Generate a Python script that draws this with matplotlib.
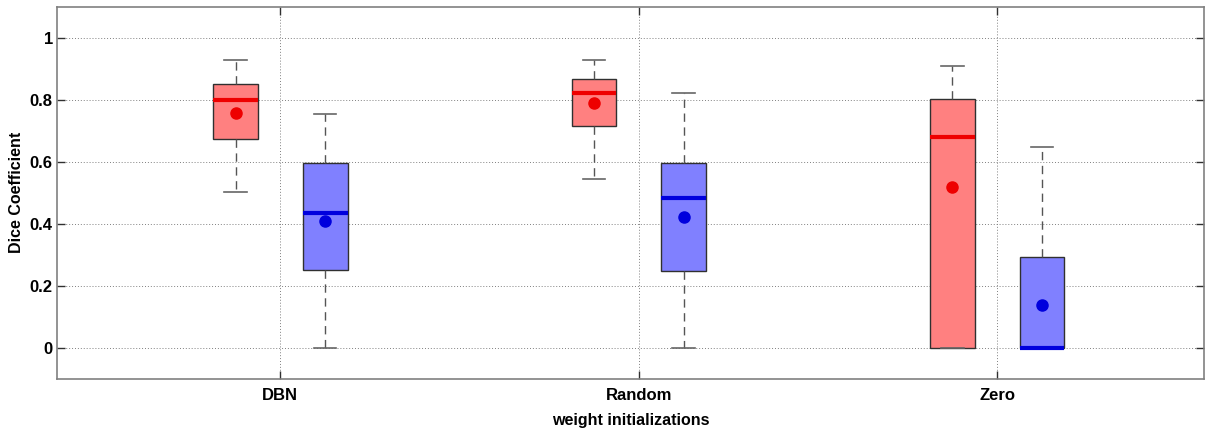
import matplotlib
matplotlib.use("Agg")
import matplotlib.pyplot as plt
import numpy as np

plt.rcParams["font.family"] = ["Liberation Sans", "DejaVu Sans"]

# Dice coefficient summaries per weight initialization
categories = ["DBN", "Random", "Zero"]

# first method (red)
red_whislo = [0.502, 0.545, 0.0]
red_q1 = [0.673, 0.715, 0.0]
red_med = [0.798, 0.821, 0.678]
red_q3 = [0.850, 0.866, 0.801]
red_whishi = [0.928, 0.929, 0.907]
red_mean = [0.758, 0.788, 0.519]

# second method (blue)
blue_whislo = [0.0, 0.0, 0.0]
blue_q1 = [0.251, 0.248, 0.0]
blue_med = [0.435, 0.482, 0.0]
blue_q3 = [0.595, 0.595, 0.292]
blue_whishi = [0.755, 0.820, 0.648]
blue_mean = [0.407, 0.421, 0.1375]

yticks = [0, 0.2, 0.4, 0.6, 0.8, 1]
ytick_labels = ["0", "0.2", "0.4", "0.6", "0.8", "1"]


def make_stats(lo, q1, med, q3, hi, mean):
    return [dict(whislo=a, q1=b, med=c, q3=d, whishi=e, mean=f, fliers=[])
            for a, b, c, d, e, f in zip(lo, q1, med, q3, hi, mean)]


fig = plt.figure(figsize=(12.11, 4.32), dpi=100)
ax = fig.add_axes([0.0471, 0.1238, 0.9471, 0.8607])

pos = np.arange(1, len(categories) + 1)
offset = 0.125
width = 0.125

groups = [
    (make_stats(red_whislo, red_q1, red_med, red_q3, red_whishi, red_mean),
     pos - offset, "#ff8080", "#ee0000"),
    (make_stats(blue_whislo, blue_q1, blue_med, blue_q3, blue_whishi, blue_mean),
     pos + offset, "#8080ff", "#0000dd"),
]

for stats, p, face, dark in groups:
    ax.bxp(stats, positions=p, widths=width, patch_artist=True,
           showmeans=True, showfliers=False, manage_ticks=False,
           boxprops=dict(facecolor=face, edgecolor="#303030", linewidth=1.0),
           medianprops=dict(color=dark, linewidth=3, solid_capstyle="butt"),
           whiskerprops=dict(color="#555555", linewidth=1.0,
                             linestyle=(0, (6, 4))),
           capprops=dict(color="#666666", linewidth=1.2),
           meanprops=dict(marker="o", markerfacecolor=dark,
                          markeredgecolor=dark, markersize=8))

ax.set_xlim(0.377, 3.577)
ax.set_ylim(-0.1, 1.1)
ax.set_xticks(pos)
ax.set_xticklabels(categories, fontsize=12, fontweight="bold")
ax.set_yticks(yticks)
ax.set_yticklabels(ytick_labels, fontsize=12, fontweight="bold")
ax.tick_params(direction="in", length=6, width=1, color="#303030",
               top=True, right=True)
ax.tick_params(axis="x", pad=7)
ax.tick_params(axis="y", pad=3)

ax.grid(True, linestyle=(0, (1, 2)), color="#808080", linewidth=0.7)
ax.set_axisbelow(True)
for s in ax.spines.values():
    s.set_color("#808080")
    s.set_linewidth(1.2)

ax.set_ylabel("Dice Coefficient", fontsize=11.5, fontweight="bold")
ax.yaxis.set_label_coords(-0.029, 0.5)
ax.set_xlabel("weight initializations", fontsize=11.5, fontweight="bold")
ax.xaxis.set_label_coords(0.5, -0.093)

fig.savefig("out.png", dpi=100)
